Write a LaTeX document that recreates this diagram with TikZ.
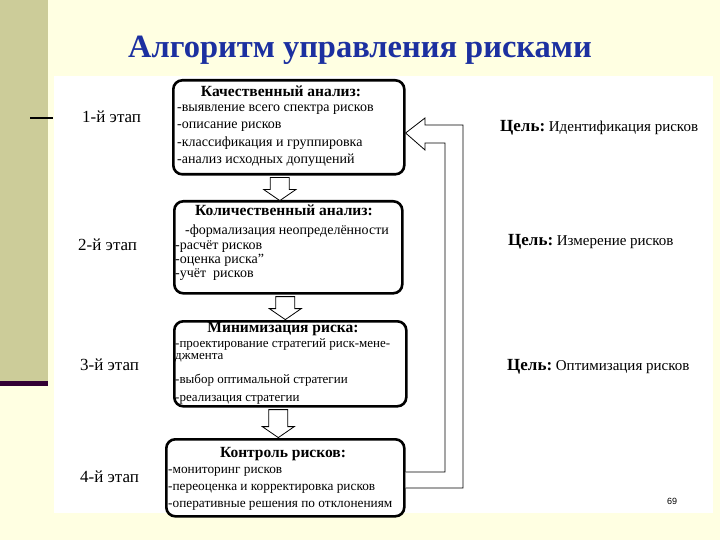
\documentclass[tikz,border=0pt]{standalone}
\usepackage{fontspec}
\setmainfont{Liberation Serif}
\newfontfamily\pagenumfont{Liberation Sans}
\usetikzlibrary{calc,positioning}
\definecolor{SlideCream}{RGB}{255,255,226}
\definecolor{SlideOlive}{RGB}{204,204,153}
\definecolor{SlidePlum}{RGB}{51,0,51}
\definecolor{TitleBlue}{RGB}{28,48,160}
\newcommand\goalword{{\bfseries\fontsize{17}{20}\selectfont Цель:}}

\tikzset{
  stagebox/.style={draw,line width=2.6pt,rounded corners=9pt,fill=white,anchor=north west,inner sep=0pt},
  boxhead/.style={font=\bfseries\fontsize{15.5}{18}\selectfont,anchor=base,inner sep=0pt},
  boxitems/.style={align=left,anchor=north west,inner sep=0pt},
  stagelabel/.style={font=\fontsize{17}{20}\selectfont,anchor=base west,inner sep=0pt},
  goal/.style={font=\fontsize{15}{18}\selectfont,anchor=base west,inner sep=0pt},
  blockline/.style={draw,line width=0.8pt,fill=white},
  pics/downarr/.style={code={
    \draw[blockline] (-9.5,0) -- (9.5,0) -- (9.5,#1-11) -- (16,#1-11) -- (0,#1)
      -- (-16,#1-11) -- (-9.5,#1-11) -- cycle;}}
}

\begin{document}
\begin{tikzpicture}[x=1pt,y=-1pt]
  \useasboundingbox (0,0) rectangle (720,540);
  % slide background
  \fill[SlideCream] (0,0) rectangle (720,540);
  \fill[SlideOlive] (0,0) rectangle (48,381);
  \fill[SlidePlum] (0,381) rectangle (48,386);
  \fill[white] (54,76) rectangle (713,513);
  \draw[line width=1.5pt] (30,118) -- (53,118);

  \node[font=\bfseries\fontsize{32.5}{38}\selectfont,text=TitleBlue,anchor=base] (title) at (360,58) {Алгоритм управления рисками};

  % stages
  \node[stagebox,minimum width=231,minimum height=94] (b1) at (172,79) {};
  \node[boxhead] (b1h) at (281,97) {Качественный анализ:};
  \node[boxitems,font=\fontsize{14}{17.2}\selectfont] (b1t) at (177,105)
    {-выявление всего спектра рисков\\-описание рисков\\-классификация и группировка\\-анализ исходных допущений};

  \node[stagebox,minimum width=228,minimum height=92] (b2) at (173,200) {};
  \node[boxhead] (b2h) at (284,215) {Количественный анализ:};
  \node[boxitems,font=\fontsize{14}{14.3}\selectfont] (b2t) at (175,225)
    {\hspace*{10pt}-формализация неопределённости\\-расчёт рисков\\-оценка риска”\\-учёт\ \ рисков};

  \node[stagebox,minimum width=232,minimum height=85] (b3) at (173,320) {};
  \node[boxhead] (b3h) at (283,332) {Минимизация риска:};
  \node[boxitems,font=\fontsize{13}{12.5}\selectfont] (b3t) at (175,338)
    {-проектирование стратегий риск-мене-\\джмента\\[11pt]-выбор оптимальной стратегии\\[5.5pt]-реализация стратегии};

  \node[stagebox,minimum width=238,minimum height=77] (b4) at (165,438) {};
  \node[boxhead] (b4h) at (283,457) {Контроль рисков:};
  \node[boxitems,font=\fontsize{13.3}{17}\selectfont] (b4t) at (168,467)
    {-мониторинг рисков\\-переоценка и корректировка рисков\\-оперативные решения по отклонениям};

  % block arrows
  \pic at ($(b1.south)+(-9,2)$) {downarr=23};
  \pic at ($(b2.south)+(-3,2)$) {downarr=23};
  \pic at ($(b3.south)+(-12,2)$) {downarr=28};
  \draw[blockline] (b4.east |- 0,472) -- (445,472) -- (445,143) -- (425,143) -- (425,150)
    -- (b1.east |- 0,133) -- (425,118) -- (425,125) -- (463,125) -- (463,488) -- (b4.east |- 0,488);

  % labels
  \node[stagelabel] (s1) at (82,123) {1-й этап};
  \node[stagelabel] (s2) at (78,250) {2-й этап};
  \node[stagelabel] (s3) at (80,370) {3-й этап};
  \node[stagelabel] (s4) at (80,482) {4-й этап};

  \node[goal] (g1) at (500,132) {\goalword\ Идентификация рисков};
  \node[goal] (g2) at (508,245) {\goalword\ Измерение рисков};
  \node[goal] (g3) at (507,370) {\goalword\ Оптимизация рисков};

  \node[font=\pagenumfont\fontsize{9}{11}\selectfont,anchor=base] (pnum) at (672,504) {69};
\end{tikzpicture}
\end{document}
